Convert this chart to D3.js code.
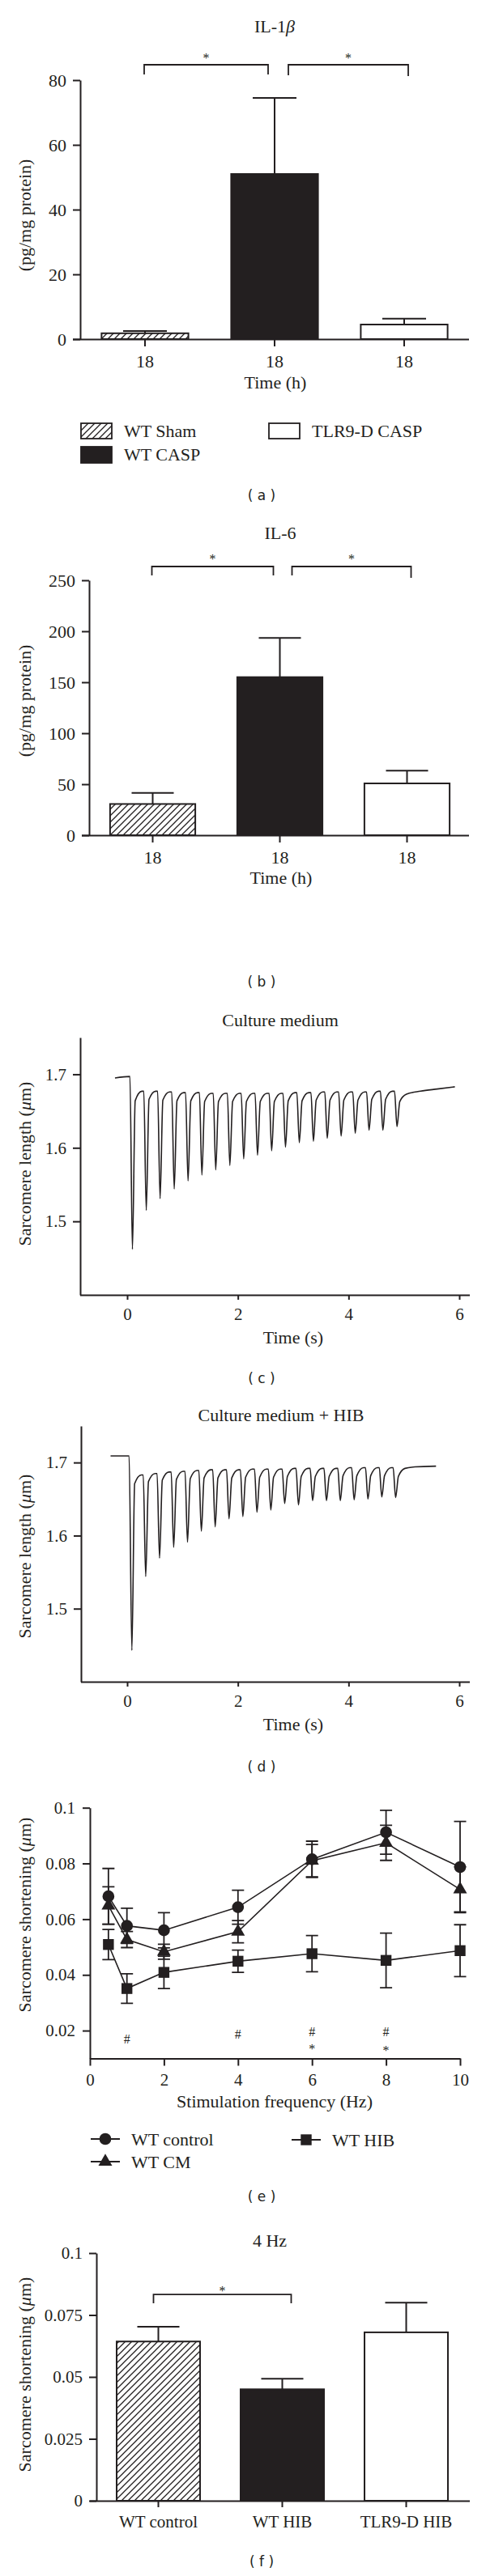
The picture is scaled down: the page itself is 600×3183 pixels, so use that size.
<!DOCTYPE html>
<html>
<head>
<meta charset="utf-8">
<script src="https://cdn.jsdelivr.net/npm/d3@7"></script>
<style>
  body { margin: 0; background: #fff; }
  svg text { font-family: "Liberation Serif", "Times New Roman", serif; fill: #231f20; }
  svg text.plabel { font-family: "DejaVu Sans", sans-serif; }
</style>
</head>
<body>
<svg id="fig"></svg>
<script>
// (a) / (b) cytokines, 18 h
var groups = ["WT Sham", "WT CASP", "TLR9-D CASP"];
var groupTicks = ["18", "18", "18"];
var il1bMean = [1.8, 51, 4.5];
var il1bErr = [0.7, 23.5, 1.8];
var il1bTicks = [0, 20, 40, 60, 80];
var il6Mean = [30.6, 155, 50.8];
var il6Err = [10.8, 38.5, 12.5];
var il6Ticks = [0, 50, 100, 150, 200, 250];

// (c) culture medium trace: trough times (s), trough / knee / relaxed lengths (um)
var cStart = [[-0.22, 1.695], [0.05, 1.697]];
var cTroughT = [0.095, 0.345, 0.595, 0.85, 1.10, 1.35, 1.60, 1.855, 2.105, 2.355,
                2.61, 2.86, 3.11, 3.365, 3.615, 3.865, 4.12, 4.37, 4.62, 4.875];
var cTrough = [1.462, 1.515, 1.531, 1.544, 1.555, 1.563, 1.570, 1.576, 1.585, 1.590,
               1.596, 1.601, 1.607, 1.609, 1.613, 1.616, 1.620, 1.624, 1.624, 1.629];
var cKnee = [1.664, 1.666, 1.665, 1.664, 1.664, 1.663, 1.663, 1.663, 1.663, 1.663,
             1.663, 1.664, 1.664, 1.665, 1.665, 1.665, 1.665, 1.666, 1.666, 1.663];
var cPeak = [1.677, 1.677, 1.676, 1.675, 1.675, 1.674, 1.674, 1.674, 1.674, 1.674,
             1.674, 1.675, 1.675, 1.676, 1.676, 1.676, 1.676, 1.677, 1.677, 1.673];
var cTail = [[5.3, 1.677], [5.6, 1.680], [5.92, 1.683]];

// (d) culture medium + HIB trace
var dStart = [[-0.3, 1.709], [0.035, 1.709]];
var dTroughT = [0.085, 0.335, 0.585, 0.84, 1.09, 1.34, 1.59, 1.84, 2.09, 2.345,
                2.595, 2.845, 3.095, 3.35, 3.60, 3.85, 4.10, 4.35, 4.60, 4.85];
var dTrough = [1.443, 1.544, 1.569, 1.584, 1.591, 1.606, 1.612, 1.623, 1.626, 1.632,
               1.635, 1.644, 1.642, 1.648, 1.648, 1.648, 1.649, 1.650, 1.653, 1.652];
var dKnee = [1.671, 1.674, 1.676, 1.677, 1.678, 1.679, 1.679, 1.679, 1.680, 1.680,
             1.680, 1.681, 1.681, 1.681, 1.681, 1.682, 1.682, 1.682, 1.682, 1.681];
var dPeak = [1.683, 1.685, 1.687, 1.688, 1.689, 1.690, 1.690, 1.690, 1.691, 1.691,
             1.691, 1.692, 1.692, 1.692, 1.692, 1.693, 1.693, 1.693, 1.693, 1.692];
var dTail = [[5.2, 1.694], [5.58, 1.695]];
var traceTicksX = [0, 2, 4, 6];
var traceTicksY = [1.5, 1.6, 1.7];

// (e) frequency response
var freqs = [0.5, 1, 2, 4, 6, 8, 10];
var ctrlMean = [0.0682, 0.0576, 0.0560, 0.0643, 0.0815, 0.0912, 0.0787];
var ctrlErr = [0.0100, 0.0063, 0.0063, 0.0061, 0.0065, 0.0079, 0.0164];
var cmMean = [0.0649, 0.0527, 0.0483, 0.0555, 0.0810, 0.0874, 0.0707];
var cmErr = [0.0067, 0.0029, 0.0027, 0.0040, 0.0058, 0.0063, 0.0081];
var hibMean = [0.0509, 0.0351, 0.0409, 0.0449, 0.0476, 0.0452, 0.0487];
var hibErr = [0.0054, 0.0053, 0.0058, 0.0040, 0.0065, 0.0098, 0.0093];
var eTicksX = [0, 2, 4, 6, 8, 10];
var eTicksY = [0.02, 0.04, 0.06, 0.08, 0.1];
var eTickLabels = ["0.02", "0.04", "0.06", "0.08", "0.1"];
var eMarkX = [1, 4, 6, 8, 6, 8];
var eMarkText = ["#", "#", "#", "#", "*", "*"];
var eMarkLevel = [0.0154, 0.0171, 0.0179, 0.0179, 0.0119, 0.0113];

// (f) 4 Hz
var fGroups = ["WT control", "WT HIB", "TLR9-D HIB"];
var fMean = [0.0643, 0.045, 0.068];
var fErr = [0.006, 0.0043, 0.012];
var fTicks = [0, 0.025, 0.05, 0.075, 0.1];
var fTickLabels = ["0", "0.025", "0.05", "0.075", "0.1"];

var ink = "#231f20";
var barFills = ["url(#hatch)", ink, "#fff"];

var svg = d3.select("#fig").attr("width", 600).attr("height", 3183);
svg.append("rect").attr("width", 600).attr("height", 3183).attr("fill", "#fff");

svg.append("defs").append("pattern")
    .attr("id", "hatch")
    .attr("patternUnits", "userSpaceOnUse")
    .attr("width", 8).attr("height", 8)
  .append("path")
    .attr("d", "M-2,2L2,-2M0,8L8,0M6,10L10,6")
    .attr("stroke", ink).attr("stroke-width", 1.3);

function styleAxis(sel, size) {
  sel.attr("color", ink).attr("font-size", size);
  sel.selectAll("line,path").attr("stroke-width", 2);
}

// text with italic greek letters
function label(x, y, str, size, rotate) {
  var t = svg.append("text").attr("font-size", size).attr("text-anchor", "middle");
  if (rotate) t.attr("transform", "translate(" + x + "," + y + ") rotate(-90)");
  else t.attr("x", x).attr("y", y);
  str.split(/([βμ])/).forEach(function(s) {
    if (!s) return;
    var ts = t.append("tspan").text(s);
    if (/[βμ]/.test(s)) ts.attr("font-style", "italic");
  });
  return t;
}

function panelLabel(letter, y) {
  svg.append("text").attr("class", "plabel")
    .attr("x", 323).attr("y", y)
    .attr("text-anchor", "middle")
    .attr("font-size", 17)
    .text("( " + letter + " )");
}

function barPanel(o) {
  var g = svg.append("g");
  var x = d3.scaleBand().domain(o.groups).range(o.xRange)
      .paddingInner(o.pad).paddingOuter(o.pad / 2);
  var y = d3.scaleLinear().domain(o.yDomain).range(o.yRange);
  var cx = function(k) { return x(k) + x.bandwidth() / 2; };
  var rows = o.groups.map(function(k, i) {
    return {k: k, m: o.mean[i], e: o.err[i], fill: barFills[i]};
  });

  g.selectAll(".err").data(rows).enter().append("path")
      .attr("d", function(d) {
        var top = y(d.m + d.e);
        return "M" + cx(d.k) + "," + y(d.m) + "V" + top +
               "M" + (cx(d.k) - o.cap) + "," + top + "H" + (cx(d.k) + o.cap);
      })
      .attr("fill", "none").attr("stroke", ink).attr("stroke-width", 2);

  g.selectAll(".bar").data(rows).enter().append("rect")
      .attr("x", function(d) { return x(d.k); })
      .attr("width", x.bandwidth())
      .attr("y", function(d) { return y(d.m); })
      .attr("height", function(d) { return y(o.yDomain[0]) - y(d.m); })
      .attr("fill", function(d) { return d.fill; })
      .attr("stroke", ink).attr("stroke-width", 2);

  var ya = g.append("g")
      .attr("transform", "translate(" + o.xRange[0] + ",0)")
      .call(d3.axisLeft(y).tickValues(o.yTicks)
        .tickFormat(function(d) { return o.yLabels[o.yTicks.indexOf(d)]; })
        .tickSize(9).tickPadding(8).tickSizeOuter(0));
  styleAxis(ya, o.tickFont);

  var xa = g.append("g")
      .attr("transform", "translate(0," + y(o.yDomain[0]) + ")")
      .call(d3.axisBottom(x)
        .tickFormat(function(d) { return o.xLabels[o.groups.indexOf(d)]; })
        .tickSize(o.xTick).tickPadding(10).tickSizeOuter(0));
  xa.select(".domain").attr("d", "M" + o.axisX[0] + ",0.5H" + o.axisX[1]);
  styleAxis(xa, o.tickFont);

  (o.brackets || []).forEach(function(b) {
    var x0 = cx(o.groups[b.from]) + b.dx[0];
    var x1 = cx(o.groups[b.to]) + b.dx[1];
    var yb = y(b.level);
    g.append("path")
        .attr("d", "M" + x0 + "," + (yb + b.drop[0]) + "V" + yb + "H" + x1 + "V" + (yb + b.drop[1]))
        .attr("fill", "none").attr("stroke", ink).attr("stroke-width", 1.8);
    g.append("text")
        .attr("x", (x0 + x1) / 2).attr("y", yb + b.starDy)
        .attr("text-anchor", "middle").attr("font-size", 16)
        .text("*");
  });

  label(o.title[0], o.title[1], o.title[2], 22);
  if (o.xTitle) label(o.xTitle[0], o.xTitle[1], o.xTitle[2], 22);
  label(o.yTitle[0], o.yTitle[1], o.yTitle[2], 22, true);
}

function tracePanel(o) {
  var x = d3.scaleLinear().domain([0, 6]).range([157, 567]);
  var y = d3.scaleLinear().domain([1.4, 1.75]).range(o.yRange);

  var pts = o.start.slice();
  o.troughT.forEach(function(t, i) {
    if (i > 0) pts.push([t - 0.045, o.peak[i - 1]]);
    pts.push([t, o.trough[i]], [t + 0.05, o.knee[i]], [t + 0.17, o.peak[i]]);
  });
  pts = pts.concat(o.tail);

  svg.append("path")
      .datum(pts)
      .attr("d", d3.line()
        .x(function(d) { return x(d[0]); })
        .y(function(d) { return y(d[1]); })
        .curve(d3.curveMonotoneX))
      .attr("fill", "none").attr("stroke", ink)
      .attr("stroke-width", 1.6).attr("stroke-linejoin", "round");

  var ya = svg.append("g")
      .attr("transform", "translate(" + o.axisX[0] + ",0)")
      .call(d3.axisLeft(y).tickValues(traceTicksY)
        .tickFormat(d3.format(".1f"))
        .tickSize(9).tickPadding(8).tickSizeOuter(0));
  styleAxis(ya, 21);

  var xa = svg.append("g")
      .attr("transform", "translate(0," + o.yRange[0] + ")")
      .call(d3.axisBottom(x).tickValues(traceTicksX)
        .tickFormat(d3.format("d"))
        .tickSize(6).tickPadding(10).tickSizeOuter(0));
  xa.select(".domain").attr("d", "M" + o.axisX[0] + ",0.5H" + o.axisX[1]);
  styleAxis(xa, 21);

  label(o.title[0], o.title[1], o.title[2], 22);
  label(362, o.yRange[0] + 60, "Time (s)", 22);
  label(38, o.yLabelY, "Sarcomere length (μm)", 22, true);
}

function freqPanel() {
  var x = d3.scaleLinear().domain([0, 10]).range([111, 568]);
  var y = d3.scaleLinear().domain([0.01, 0.1]).range([2543.5, 2233.7]);
  var series = [
    {name: "WT HIB", mean: hibMean, err: hibErr, sym: d3.symbolSquare, size: 180},
    {name: "WT CM", mean: cmMean, err: cmErr, sym: d3.symbolTriangle, size: 125},
    {name: "WT control", mean: ctrlMean, err: ctrlErr, sym: d3.symbolCircle, size: 170}
  ];
  var line = d3.line()
      .x(function(d) { return x(d.f); })
      .y(function(d) { return y(d.m); });

  series.forEach(function(s) {
    s.rows = freqs.map(function(f, i) { return {f: f, m: s.mean[i], e: s.err[i]}; });
    svg.append("path").datum(s.rows).attr("d", line)
        .attr("fill", "none").attr("stroke", ink).attr("stroke-width", 1.6);
  });

  series.forEach(function(s) {
    svg.append("g").selectAll("path").data(s.rows).enter().append("path")
        .attr("d", function(d) {
          var px = x(d.f), lo = y(d.m - d.e), hi = y(d.m + d.e);
          return "M" + px + "," + lo + "V" + hi +
                 "M" + (px - 7.5) + "," + hi + "H" + (px + 7.5) +
                 "M" + (px - 7.5) + "," + lo + "H" + (px + 7.5);
        })
        .attr("fill", "none").attr("stroke", ink).attr("stroke-width", 1.8);
  });

  series.forEach(function(s) {
    svg.append("g").selectAll("path").data(s.rows).enter().append("path")
        .attr("transform", function(d) { return "translate(" + x(d.f) + "," + y(d.m) + ")"; })
        .attr("d", d3.symbol().type(s.sym).size(s.size))
        .attr("fill", ink);
  });

  svg.append("g").selectAll("text").data(eMarkX).enter().append("text")
      .attr("x", function(d) { return x(d); })
      .attr("y", function(d, i) { return y(eMarkLevel[i]); })
      .attr("text-anchor", "middle").attr("font-size", 16)
      .text(function(d, i) { return eMarkText[i]; });

  var ya = svg.append("g")
      .attr("transform", "translate(111,0)")
      .call(d3.axisLeft(y).tickValues(eTicksY)
        .tickFormat(function(d) { return eTickLabels[eTicksY.indexOf(d)]; })
        .tickSize(9).tickPadding(9).tickSizeOuter(0));
  styleAxis(ya, 21);

  var xa = svg.append("g")
      .attr("transform", "translate(0,2543.5)")
      .call(d3.axisBottom(x).tickValues(eTicksX)
        .tickFormat(d3.format("d"))
        .tickSize(9).tickPadding(10).tickSizeOuter(0));
  styleAxis(xa, 21);

  label(339, 2604, "Stimulation frequency (Hz)", 22);
  label(38, 2366, "Sarcomere shortening (μm)", 22, true);

  // legend
  var leg = [
    {s: series[2], x: 112, y: 2643},
    {s: series[1], x: 112, y: 2671},
    {s: series[0], x: 360, y: 2644}
  ];
  leg.forEach(function(l) {
    var g = svg.append("g").attr("transform", "translate(" + l.x + "," + l.y + ")");
    g.append("path").attr("d", "M0,0H36").attr("stroke", ink).attr("stroke-width", 1.8);
    g.append("path").attr("transform", "translate(18,0)")
        .attr("d", d3.symbol().type(l.s.sym).size(l.s.size)).attr("fill", ink);
    g.append("text").attr("x", 50).attr("y", 8).attr("font-size", 22).text(l.s.name);
  });
}

// (a)
barPanel({
  groups: groups, xLabels: groupTicks, mean: il1bMean, err: il1bErr,
  xRange: [99, 579], pad: 0.33, yDomain: [0, 80], yRange: [419, 99],
  yTicks: il1bTicks, yLabels: il1bTicks.map(String), tickFont: 22,
  axisX: [90, 579], xTick: 9, cap: 27,
  brackets: [
    {from: 0, to: 1, dx: [-1, -8], level: 84.75, drop: [12, 12], starDy: -3},
    {from: 1, to: 2, dx: [17, 5], level: 84.75, drop: [13, 14], starDy: -3}
  ],
  title: [339, 40, "IL-1β"], xTitle: [340, 480, "Time (h)"],
  yTitle: [38, 266, "(pg/mg protein)"]
});

var legA = [
  {x: 100, y: 523, h: 19, name: groups[0], fill: barFills[0]},
  {x: 100, y: 552, h: 20, name: groups[1], fill: barFills[1]},
  {x: 332, y: 523, h: 19, name: groups[2], fill: barFills[2]}
];
legA.forEach(function(l) {
  svg.append("rect").attr("x", l.x).attr("y", l.y).attr("width", 38).attr("height", l.h)
      .attr("fill", l.fill).attr("stroke", ink).attr("stroke-width", 1.8);
  svg.append("text").attr("x", l.x + 53).attr("y", l.y + 17).attr("font-size", 22).text(l.name);
});
panelLabel("a", 618);

// (b)
barPanel({
  groups: groups, xLabels: groupTicks, mean: il6Mean, err: il6Err,
  xRange: [110, 581], pad: 0.33, yDomain: [0, 250], yRange: [1032, 717],
  yTicks: il6Ticks, yLabels: il6Ticks.map(String), tickFont: 22,
  axisX: [101, 579], xTick: 9, cap: 26,
  brackets: [
    {from: 0, to: 1, dx: [-1, -8], level: 263.5, drop: [11, 11], starDy: -4},
    {from: 1, to: 2, dx: [15, 5], level: 263.5, drop: [11, 14], starDy: -4}
  ],
  title: [346, 666, "IL-6"], xTitle: [347, 1092, "Time (h)"],
  yTitle: [38, 866, "(pg/mg protein)"]
});
panelLabel("b", 1219);

// (c)
tracePanel({
  start: cStart, troughT: cTroughT, trough: cTrough, knee: cKnee, peak: cPeak, tail: cTail,
  yRange: [1600, 1282], axisX: [99, 580],
  title: [346, 1268, "Culture medium"], yLabelY: 1438
});
panelLabel("c", 1709);

// (d)
tracePanel({
  start: dStart, troughT: dTroughT, trough: dTrough, knee: dKnee, peak: dPeak, tail: dTail,
  yRange: [2078, 1762], axisX: [100, 580],
  title: [347, 1756, "Culture medium + HIB"], yLabelY: 1923
});
panelLabel("d", 2189);

// (e)
freqPanel();
panelLabel("e", 2720);

// (f)
barPanel({
  groups: fGroups, xLabels: fGroups, mean: fMean, err: fErr,
  xRange: [119, 578], pad: 0.327, yDomain: [0, 0.1], yRange: [3090, 2784],
  yTicks: fTicks, yLabels: fTickLabels, tickFont: 21,
  axisX: [111, 580], xTick: 8, cap: 26,
  brackets: [
    {from: 0, to: 1, dx: [-6, 11], level: 0.0833, drop: [11, 11], starDy: 1}
  ],
  title: [333, 2776, "4 Hz"],
  yTitle: [38, 2934, "Sarcomere shortening (μm)"]
});
panelLabel("f", 3171);
</script>
</body>
</html>
